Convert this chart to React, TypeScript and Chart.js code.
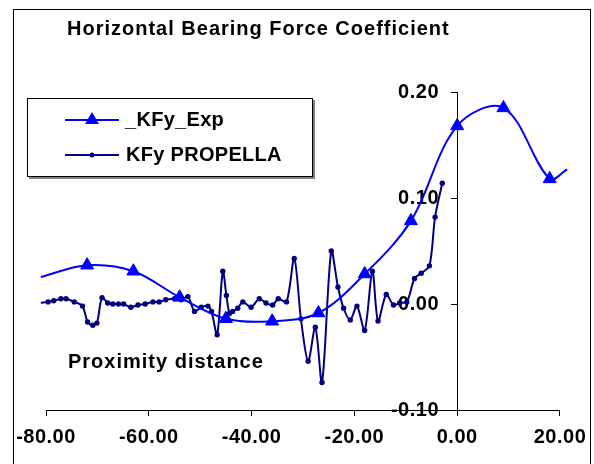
import React, { useEffect, useRef } from 'react';
import { Chart, registerables } from 'chart.js';

Chart.register(...registerables);

// Experimental series (_KFy_Exp)
const expX = [-81, -72, -63, -54, -45, -36, -27, -18, -9, 0, 9, 18, 21.4];
const expY = [0.0255, 0.0366, 0.0309, 0.0063, -0.0139, -0.0163, -0.0085, 0.0283, 0.0784, 0.168, 0.185, 0.118, 0.127];
const expMarker = [0, 1, 1, 1, 1, 1, 1, 1, 1, 1, 1, 1, 0];

// Computed series (KFy PROPELLA)
const propX = [
  -81.0, -79.6, -78.5, -77.1, -76.1, -74.5, -72.9, -71.9, -70.9, -70.1,
  -69.1, -68.0, -67.0, -65.9, -64.9, -63.5, -62.1, -60.7, -59.2, -58.0,
  -56.7, -55.0, -53.7, -52.4, -51.1, -49.8, -48.5, -47.8, -46.7, -45.6,
  -44.9, -44.3, -43.7, -42.7, -41.7, -40.1, -38.5, -37.2, -35.9, -34.8,
  -33.2, -31.7, -30.4, -29.0, -27.6, -26.3, -24.5, -23.2, -22.1, -20.8,
  -19.5, -18.0, -16.5, -15.4, -13.8, -12.4, -11.2, -9.8, -8.3, -7.0,
  -5.4, -4.3, -2.9,
];
const propY = [
  0.001, 0.002, 0.003, 0.005, 0.005, 0.002, -0.002, -0.017, -0.020, -0.018,
  0.006, 0.001, 0.000, 0.000, 0.000, -0.003, -0.001, 0.000, 0.002, 0.002,
  0.004, 0.005, 0.004, 0.007, -0.007, -0.003, -0.002, -0.007, -0.029, 0.031,
  0.008, -0.009, -0.007, -0.004, 0.002, -0.003, 0.005, 0.001, -0.001, 0.005,
  0.002, 0.043, -0.014, -0.054, -0.022, -0.074, 0.050, 0.016, -0.004, -0.015,
  -0.002, -0.025, 0.031, -0.016, 0.009, -0.001, 0.001, 0.002, 0.024, 0.029,
  0.036, 0.082, 0.114,
];

const xTicks = [-80, -60, -40, -20, 0, 20];
const yTicks = [-0.1, 0, 0.1, 0.2];

const titleText = 'Horizontal Bearing Force Coefficient';
const xTitleText = 'Proximity distance';
const seriesNames = ['_KFy_Exp', 'KFy PROPELLA'];

const FONT = '"Liberation Sans", Arial, sans-serif';
const EXP_COLOR = '#0000FF';
const PROP_COLOR = '#000080';

const decorPlugin = {
  id: 'decor',
  beforeDraw(chart: any) {
    const ctx = chart.ctx;
    ctx.save();
    ctx.fillStyle = '#ffffff';
    ctx.fillRect(0, 0, chart.width, chart.height);
    ctx.restore();
    try { (ctx as any).letterSpacing = '0.5px'; } catch (e) {}
  },
  afterDraw(chart: any) {
    const ctx = chart.ctx;
    ctx.save();
    // outer border
    ctx.strokeStyle = '#000';
    ctx.lineWidth = 1;
    ctx.strokeRect(13.5, 9.5, 577, 470);

    // title
    ctx.fillStyle = '#000';
    ctx.font = `bold 20px ${FONT}`;
    try { (ctx as any).letterSpacing = '1px'; } catch (e) {}
    ctx.textAlign = 'left';
    ctx.textBaseline = 'middle';
    ctx.fillText(titleText, 67, 29);
    // axis title
    ctx.fillText(xTitleText, 68, 362);

    // legend box
    try { (ctx as any).letterSpacing = '0.3px'; } catch (e) {}
    ctx.fillStyle = '#808080';
    ctx.fillRect(29, 100, 286, 79);
    ctx.fillStyle = '#fff';
    ctx.fillRect(27, 98, 286, 79);
    ctx.strokeStyle = '#000';
    ctx.strokeRect(27.5, 98.5, 285, 78);

    // legend entry 1
    ctx.strokeStyle = EXP_COLOR;
    ctx.lineWidth = 2;
    ctx.beginPath();
    ctx.moveTo(65, 120);
    ctx.lineTo(119, 120);
    ctx.stroke();
    ctx.fillStyle = EXP_COLOR;
    ctx.beginPath();
    ctx.moveTo(92, 112);
    ctx.lineTo(99, 124);
    ctx.lineTo(85, 124);
    ctx.closePath();
    ctx.fill();

    // legend entry 2
    ctx.strokeStyle = PROP_COLOR;
    ctx.beginPath();
    ctx.moveTo(65, 155);
    ctx.lineTo(119, 155);
    ctx.stroke();
    ctx.fillStyle = PROP_COLOR;
    ctx.beginPath();
    ctx.arc(92, 155, 2.5, 0, Math.PI * 2);
    ctx.fill();

    ctx.fillStyle = '#000';
    ctx.font = `bold 20px ${FONT}`;
    ctx.textBaseline = 'middle';
    ctx.fillText(seriesNames[0], 125, 120);
    ctx.fillText(seriesNames[1], 126, 155);
    ctx.restore();
  },
};

export default function App() {
  const ref = useRef<HTMLCanvasElement | null>(null);

  useEffect(() => {
    document.body.style.margin = '0';
    const canvas = ref.current;
    if (!canvas) return;

    const chart = new Chart(canvas, {
      type: 'line',
      data: {
        datasets: [
          {
            label: seriesNames[0],
            data: expX.map((x, i) => ({ x, y: expY[i] })),
            borderColor: EXP_COLOR,
            backgroundColor: EXP_COLOR,
            borderWidth: 2,
            pointStyle: 'triangle',
            pointRadius: expMarker.map((m) => (m ? 7.5 : 0)),
            pointBackgroundColor: EXP_COLOR,
            pointBorderColor: EXP_COLOR,
            pointBorderWidth: 1,
            tension: 0.35,
            capBezierPoints: false,
            clip: false,
            fill: false,
          } as any,
          {
            label: seriesNames[1],
            data: propX.map((x, i) => ({ x, y: propY[i] })),
            borderColor: PROP_COLOR,
            backgroundColor: PROP_COLOR,
            borderWidth: 2,
            pointStyle: 'circle',
            pointRadius: 2.7,
            pointBackgroundColor: PROP_COLOR,
            pointBorderColor: PROP_COLOR,
            pointBorderWidth: 0,
            tension: 0.3,
            capBezierPoints: false,
            clip: false,
            fill: false,
          } as any,
        ],
      },
      options: {
        animation: false,
        responsive: false,
        maintainAspectRatio: false,
        events: [],
        layout: { padding: { left: 46, right: 34, top: 92, bottom: 6 } },
        plugins: {
          legend: { display: false },
          title: { display: false },
          tooltip: { enabled: false },
        },
        scales: {
          x: {
            type: 'linear',
            min: -80,
            max: 20,
            position: 'bottom',
            afterBuildTicks: (s: any) => {
              s.ticks = xTicks.map((v) => ({ value: v }));
            },
            grid: {
              drawOnChartArea: false,
              drawTicks: true,
              tickLength: 6,
              color: '#000',
              tickColor: '#000',
            },
            border: { display: true, color: '#000', width: 1 },
            ticks: {
              font: { family: FONT, size: 20, weight: 'bold' },
              color: '#000',
              padding: 9,
              maxRotation: 0,
              autoSkip: false,
              callback: (v: any) => Number(v).toFixed(2),
            },
          },
          y: {
            type: 'linear',
            min: -0.1,
            max: 0.2,
            position: { x: 0 },
            z: 1,
            afterBuildTicks: (s: any) => {
              s.ticks = yTicks.map((v) => ({ value: v }));
            },
            grid: {
              drawOnChartArea: false,
              drawTicks: true,
              tickLength: 6,
              color: '#000',
              tickColor: '#000',
            },
            border: { display: true, color: '#000', width: 1 },
            ticks: {
              font: { family: FONT, size: 20, weight: 'bold' },
              color: '#000',
              padding: 10,
              autoSkip: false,
              // trailing spaces keep the label clear of the axis line (centred axes ignore padding)
              callback: (v: any) => Number(v).toFixed(2) + '   ',
            },
          },
        } as any,
      },
      plugins: [decorPlugin],
    });

    return () => chart.destroy();
  }, []);

  return (
    <canvas ref={ref} width={594} height={464} style={{ display: 'block' }} />
  );
}
